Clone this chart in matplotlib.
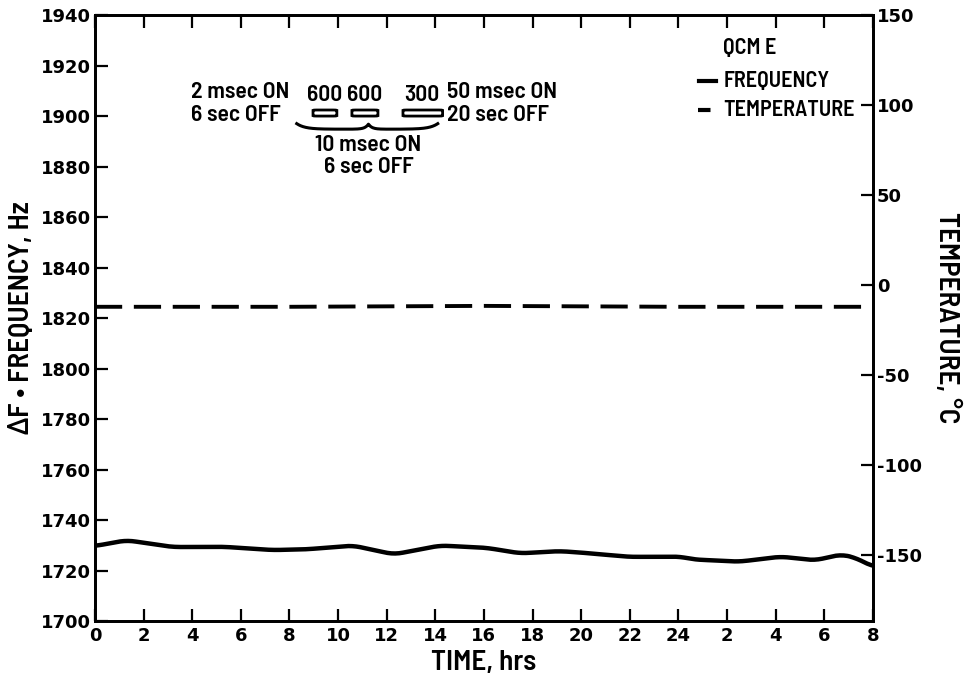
import numpy as np
import matplotlib
matplotlib.use("Agg")
import matplotlib.pyplot as plt
from matplotlib import font_manager as fm
from matplotlib.patches import FancyBboxPatch

plt.rcParams['font.family'] = ['DejaVu Sans']
plt.rcParams['font.weight'] = 'bold'

# narrow lettering for the labels, if a condensed face is around
have_narrow = any(f.name == 'Barlow Semi Condensed' for f in fm.fontManager.ttflist)
NARROW = ['Barlow Semi Condensed', 'DejaVu Sans'] if have_narrow else ['DejaVu Sans']
fs = 17 if have_narrow else 13
leg_fs = 16 if have_narrow else 12
lab_fs = 21 if have_narrow else 15
wt = 600 if have_narrow else 'bold'

# data
time_hrs = [0, 1.3, 3.2, 5.3, 7.3, 8.7, 10.6, 12.3, 14.2, 16.1, 17.5, 19.1, 20.0,
            22.0, 24.1, 24.6, 26.5, 28.2, 29.0, 29.6, 30.7, 31.3, 32.0]
frequency = [1729.7, 1732.0, 1729.3, 1729.4, 1728.1, 1728.4, 1729.9, 1726.4, 1729.9,
             1729.0, 1726.8, 1727.7, 1727.1, 1725.4, 1725.5, 1724.4, 1723.5, 1725.5,
             1724.7, 1724.0, 1726.4, 1725.0, 1721.5]
temp_time = [0, 8, 16, 24, 32]
temperature = [-12, -12, -11.5, -12, -12]

x_ticks = list(range(0, 33, 2))
x_labels = ["0", "2", "4", "6", "8", "10", "12", "14", "16", "18", "20", "22", "24",
            "2", "4", "6", "8"]
f_ticks = list(range(1700, 1941, 20))
t_ticks = [150, 100, 50, 0, -50, -100, -150]

fig = plt.figure(figsize=(9.64, 6.85), dpi=100)
ax = fig.add_axes([0.0985, 0.0934, 0.807, 0.8846])
ax2 = ax.twinx()

# smooth the frequency trace a bit
tt = np.linspace(0, 32, 400)
ff = np.interp(tt, time_hrs, frequency)
k = np.ones(9) / 9
ff_s = np.convolve(np.pad(ff, 4, mode='edge'), k, mode='valid')
ax.plot(tt, ff_s, color='black', lw=3.2, solid_capstyle='round')

ax2.plot(temp_time, temperature, color='black', lw=2.8, dashes=(7, 3))

ax.set_xlim(0, 32)
ax.set_ylim(1700, 1940)
ax2.set_ylim(-186.5, 150)

ax.set_xticks(x_ticks)
ax.set_xticklabels(x_labels)
ax.set_yticks(f_ticks)
ax2.set_yticks(t_ticks)
ax2.set_yticklabels([str(v) if v >= 0 else "-" + str(-v) for v in t_ticks])

ax.tick_params(axis='x', direction='in', length=9, width=1.6, top=True, labelsize=13, pad=4)
ax.tick_params(axis='y', direction='in', length=9, width=1.6, labelsize=13, pad=3)
ax2.tick_params(axis='y', direction='in', length=9, width=1.6, labelsize=13, pad=3)
for a in (ax, ax2):
    for s in a.spines.values():
        s.set_linewidth(2)

ax.set_xlabel("TIME, hrs", fontsize=lab_fs, family=NARROW, fontweight=wt, labelpad=4)
ax.set_ylabel("\u0394F \u2022 FREQUENCY, Hz", fontsize=lab_fs, family=NARROW,
              fontweight=wt, va='center')
ax.yaxis.set_label_coords(-0.095, 0.5)
ax2.set_ylabel("TEMPERATURE, \u00b0C", fontsize=lab_fs, family=NARROW, fontweight=wt,
               rotation=-90, va='center')
ax2.yaxis.set_label_coords(1.095, 0.5)

# legend block
ax.text(25.85, 1927, "QCM E", fontsize=leg_fs, family=NARROW, fontweight=wt,
        ha='left', va='center')
ax.plot([24.85, 25.55], [1914, 1914], color='black', lw=3)
ax.text(25.85, 1914, "FREQUENCY", fontsize=leg_fs, family=NARROW, fontweight=wt,
        ha='left', va='center')
ax.plot([24.8, 25.55], [1902.5, 1902.5], color='black', lw=3, dashes=(3, 2))
ax.text(25.85, 1902.5, "TEMPERATURE", fontsize=leg_fs, family=NARROW, fontweight=wt,
        ha='left', va='center')

# pulse annotations
ax.text(3.95, 1909.5, "2 msec ON", fontsize=fs, family=NARROW, fontweight=wt,
        ha='left', va='center')
ax.text(3.95, 1900.5, "6 sec OFF", fontsize=fs, family=NARROW, fontweight=wt,
        ha='left', va='center')
for xc, lab in [(9.45, "600"), (11.1, "600"), (13.45, "300")]:
    ax.text(xc, 1908.5, lab, fontsize=fs, family=NARROW, fontweight=wt,
            ha='center', va='center')
for x0, x1 in [(8.97, 9.95), (10.57, 11.64), (12.67, 14.3)]:
    ax.add_patch(FancyBboxPatch((x0, 1900.0), x1 - x0, 2.4,
                                boxstyle="round,pad=0,rounding_size=0.15",
                                fc='white', ec='black', lw=2, mutation_aspect=1))
ax.text(14.5, 1909.5, "50 msec ON", fontsize=fs, family=NARROW, fontweight=wt,
        ha='left', va='center')
ax.text(14.5, 1900.5, "20 sec OFF", fontsize=fs, family=NARROW, fontweight=wt,
        ha='left', va='center')

# curly brace under the boxes
b0, b1, mid = 8.3, 14.1, 11.25
bx = np.linspace(b0, b1, 300)
by = 1897.0 - 2.2 * (1 - np.exp(-(bx - b0) * 3)) * (1 - np.exp(-(b1 - bx) * 3))
by = by + 2.0 * np.exp(-np.abs(bx - mid) * 7)
ax.plot(bx, by, color='black', lw=2.2)
ax.text(mid, 1888.5, "10 msec ON", fontsize=fs, family=NARROW, fontweight=wt,
        ha='center', va='center')
ax.text(mid, 1880, "6 sec OFF", fontsize=fs, family=NARROW, fontweight=wt,
        ha='center', va='center')

fig.savefig("out.png", dpi=100)
